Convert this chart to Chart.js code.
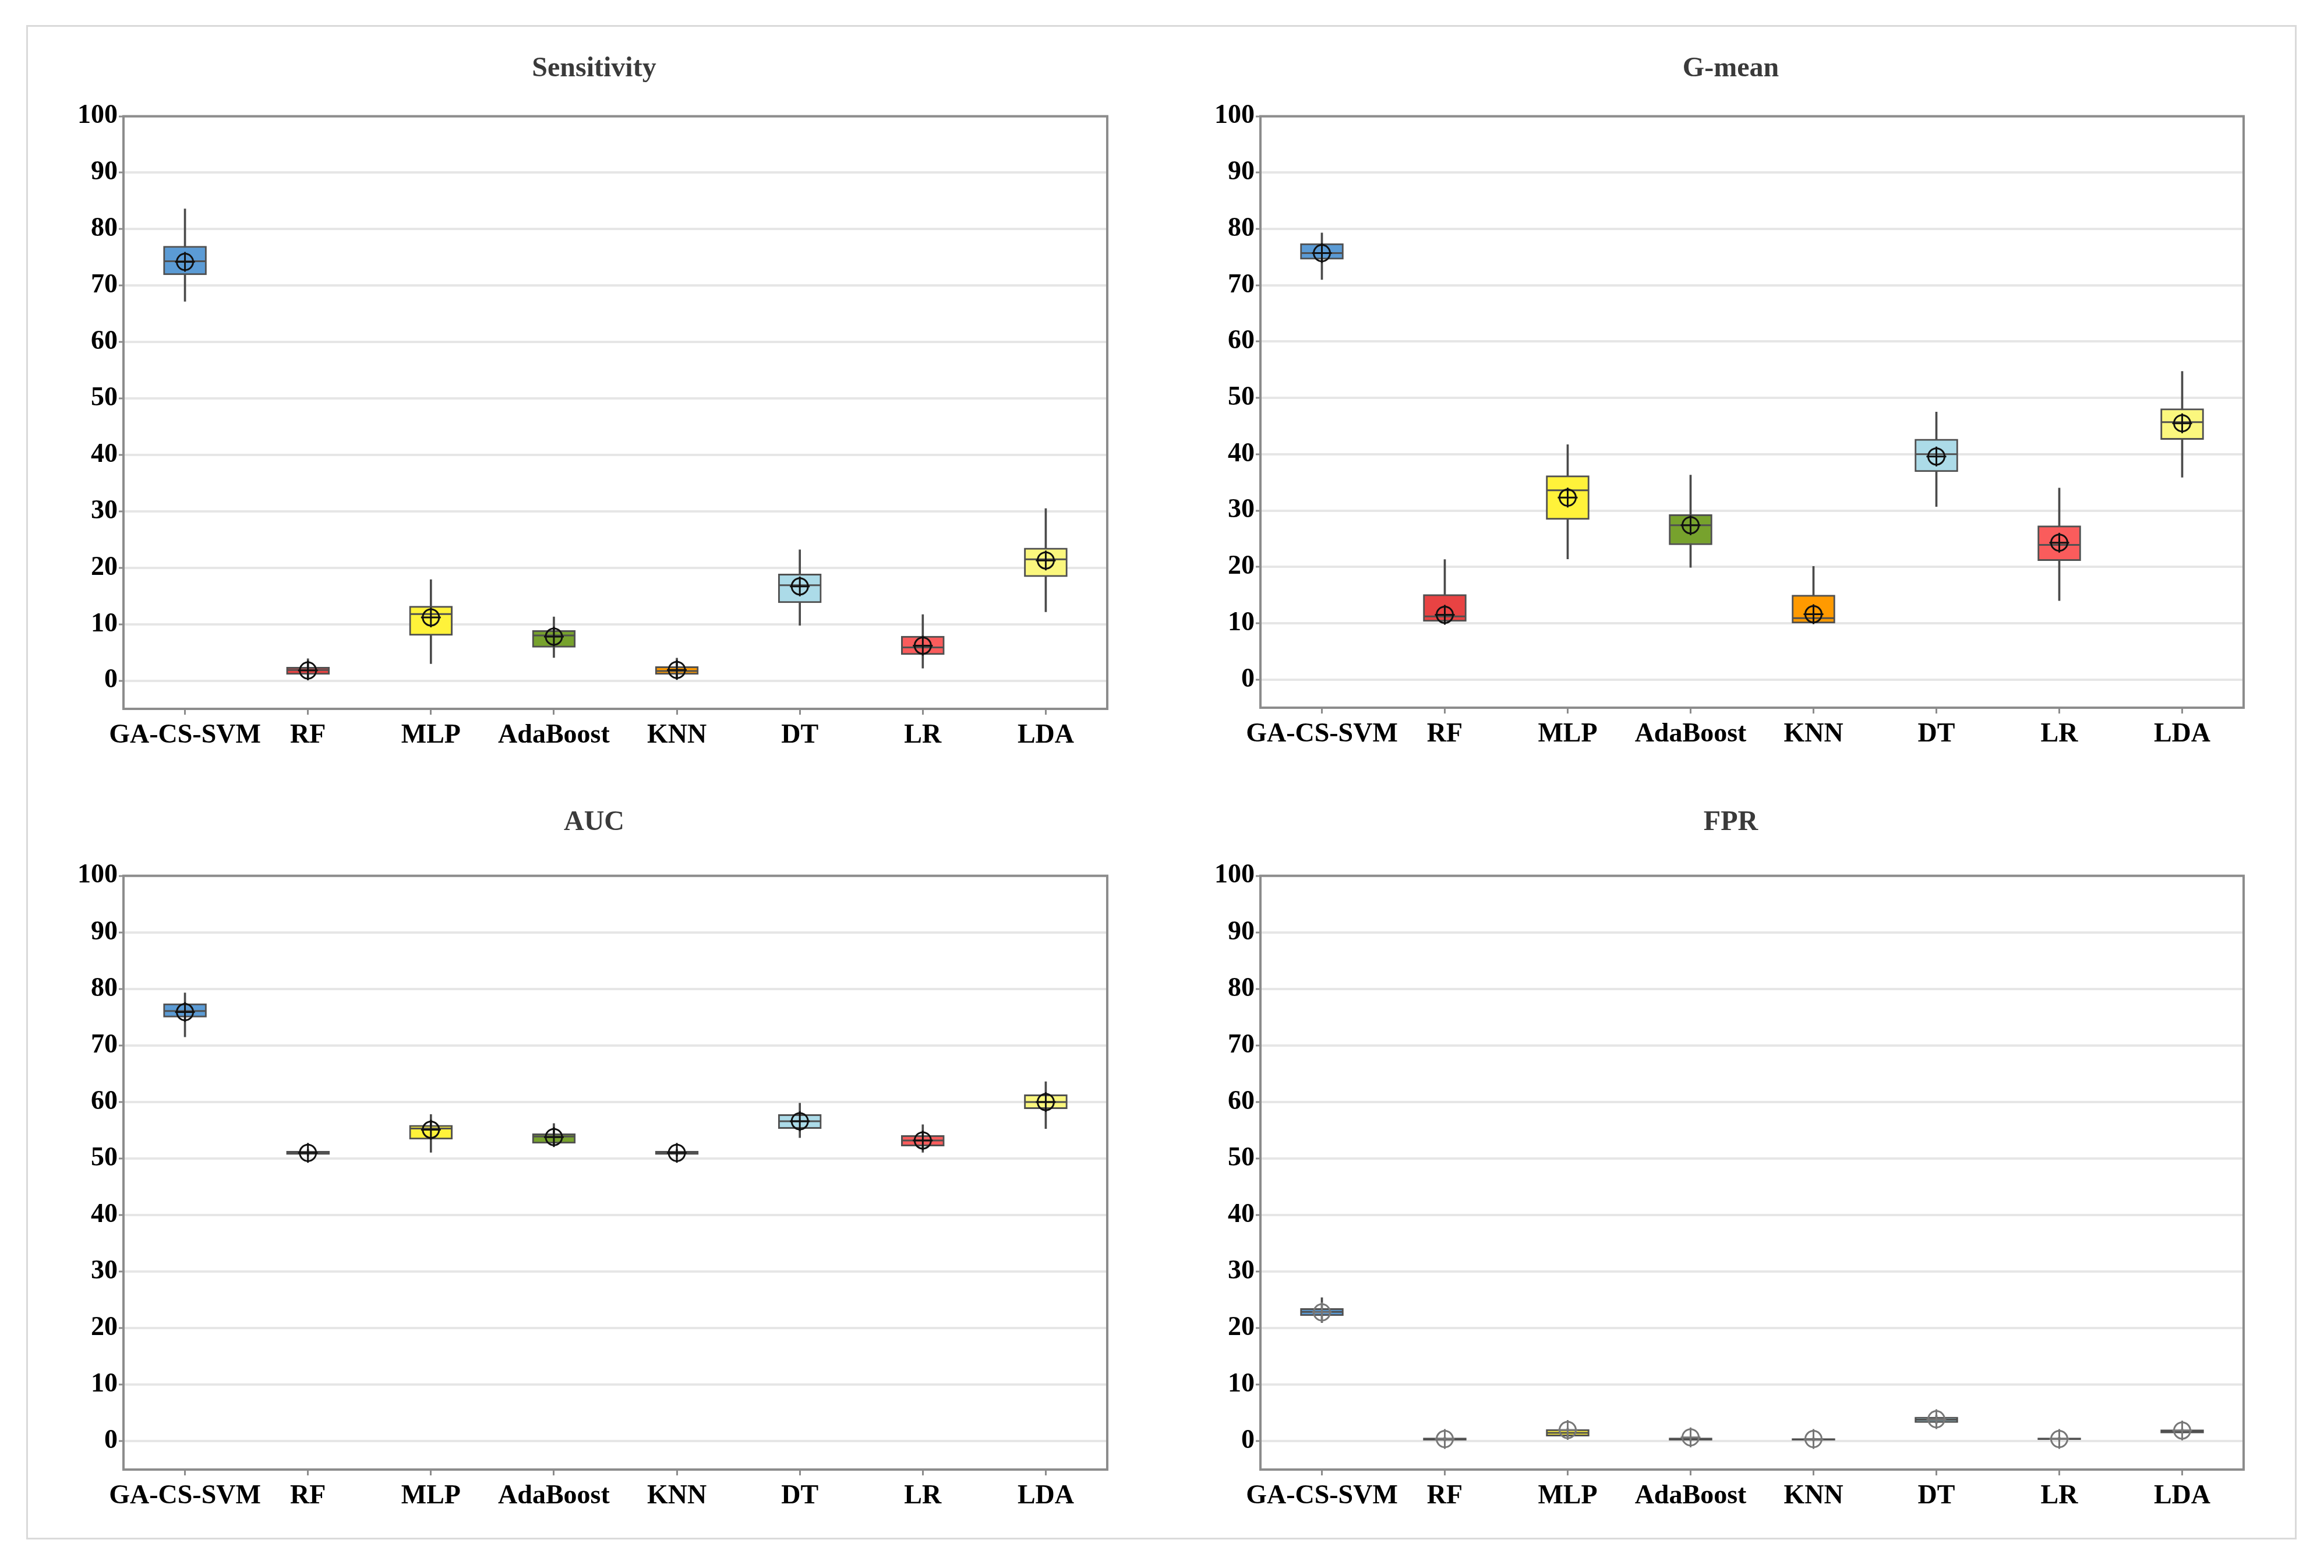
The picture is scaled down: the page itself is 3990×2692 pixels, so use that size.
<!DOCTYPE html>
<html><head><meta charset="utf-8">
<script src="https://cdn.jsdelivr.net/npm/chart.js@4.4.1/dist/chart.umd.min.js"></script>
<style>
html,body{margin:0;padding:0;background:#fff;}
#page{position:relative;width:3990px;height:2692px;background:#fff;overflow:hidden;}
#frame{position:absolute;left:45px;top:43px;width:3898px;height:2600px;box-sizing:border-box;border:3px solid #dadada;}
canvas{position:absolute;}
</style></head><body>
<div id="page"><div id="frame"></div>
<canvas id="c1"></canvas><canvas id="c2"></canvas><canvas id="c3"></canvas><canvas id="c4"></canvas>
</div>
<script>
const categories = ['GA-CS-SVM','RF','MLP','AdaBoost','KNN','DT','LR','LDA'];
const yTicks = [0,10,20,30,40,50,60,70,80,90,100];
const boxColors = ['#5b9bd5','#e84343','#fff23a','#77a22d','#ff9a00','#acdbe8','#fa5c5c','#fbf77e'];

const sensMin  = [67.2, 0.5, 3.0, 4.1, 0.3, 9.8, 2.2, 12.2];
const sensQ1   = [71.9, 1.1, 8.0, 5.9, 1.1, 13.8, 4.6, 18.4];
const sensMed  = [74.3, 1.9, 11.8, 8.0, 1.7, 16.9, 5.9, 21.5];
const sensQ3   = [77.0, 2.4, 13.2, 8.9, 2.5, 18.9, 7.9, 23.5];
const sensMax  = [83.6, 3.9, 17.9, 11.3, 4.0, 23.2, 11.7, 30.5];
const sensMean = [74.2, 1.8, 11.2, 7.8, 1.9, 16.7, 6.2, 21.3];

const gmMin  = [71.0, 10.3, 21.4, 19.9, 10.0, 30.7, 14.0, 35.9];
const gmQ1   = [74.6, 10.3, 28.4, 23.9, 10.0, 36.9, 21.1, 42.6];
const gmMed  = [75.7, 11.2, 33.6, 27.4, 10.9, 40.0, 23.9, 45.7];
const gmQ3   = [77.4, 15.1, 36.2, 29.3, 15.0, 42.7, 27.3, 48.1];
const gmMax  = [79.3, 21.3, 41.7, 36.3, 20.1, 47.5, 34.0, 54.7];
const gmMean = [75.7, 11.5, 32.3, 27.4, 11.6, 39.6, 24.3, 45.5];

const aucMin  = [71.5, 50.4, 51.1, 52.3, 50.4, 53.7, 51.1, 55.3];
const aucQ1   = [75.0, 50.7, 53.4, 52.7, 50.7, 55.3, 52.2, 58.8];
const aucMed  = [76.1, 51.0, 55.3, 53.9, 51.0, 56.6, 53.2, 60.0];
const aucQ3   = [77.4, 51.3, 55.9, 54.4, 51.3, 57.8, 54.1, 61.3];
const aucMax  = [79.3, 51.6, 57.8, 56.2, 51.6, 59.8, 56.0, 63.6];
const aucMean = [75.9, 51.0, 55.1, 53.8, 51.0, 56.6, 53.2, 60.0];

const fprMin  = [21.0, 0.1, 0.8, 0.1, 0.1, 3.1, 0.2, 1.4];
const fprQ1   = [22.2, 0.15, 0.9, 0.15, 0.15, 3.3, 0.25, 1.45];
const fprMed  = [22.9, 0.35, 1.5, 0.4, 0.3, 3.8, 0.4, 1.8];
const fprQ3   = [23.5, 0.6, 2.1, 0.6, 0.5, 4.3, 0.6, 2.05];
const fprMax  = [25.4, 0.7, 2.3, 0.7, 0.6, 4.6, 0.7, 2.2];
const fprMean = [22.8, 0.4, 2.0, 0.7, 0.4, 3.9, 0.4, 1.9];

const FONT = 'Liberation Serif, Times New Roman, serif';
const AXIS = '#8c8c8c';

const framePlugin = {
  id: 'frameBox',
  afterDatasetsDraw(chart) {
    const a = chart.chartArea, ctx = chart.ctx;
    ctx.save();
    ctx.strokeStyle = AXIS; ctx.lineWidth = 4;
    ctx.strokeRect(a.left, a.top, a.right - a.left, a.bottom - a.top);
    ctx.restore();
  }
};

function build(id, pos, title, mn, q1, md, q3, mx, mean, markerColor) {
  const cv = document.getElementById(id);
  cv.width = pos.w; cv.height = pos.h;
  cv.style.left = pos.left + 'px'; cv.style.top = pos.top + 'px';
  cv.style.width = pos.w + 'px'; cv.style.height = pos.h + 'px';
  const tickFont = {family: FONT, size: 46, weight: 'bold'};
  new Chart(cv, {
    type: 'bar',
    data: {
      labels: categories,
      datasets: [
        {label: 'whisker', data: mn.map((v, i) => [v, mx[i]]), backgroundColor: '#4a4a4a',
          barThickness: 3, grouped: false, order: 5},
        {label: 'box', data: q1.map((v, i) => [v, q3[i]]), backgroundColor: boxColors,
          borderColor: '#505050', borderWidth: 3, borderSkipped: false, barThickness: 74, grouped: false, order: 4},
        {type: 'line', label: 'median', data: md, showLine: false, pointStyle: 'line', pointRadius: 35,
          pointHoverRadius: 35, borderColor: '#505050', pointBorderColor: '#505050', pointBorderWidth: 3, borderWidth: 3, order: 3},
        {type: 'line', label: 'mean', data: mean, showLine: false, pointStyle: 'circle', pointRadius: 14,
          pointHoverRadius: 14, backgroundColor: 'rgba(0,0,0,0)', pointBackgroundColor: 'rgba(0,0,0,0)',
          borderColor: markerColor, pointBorderColor: markerColor, pointBorderWidth: 3, order: 2},
        {type: 'line', label: 'meanCross', data: mean, showLine: false, pointStyle: 'cross', pointRadius: 17,
          pointHoverRadius: 17, borderColor: markerColor, pointBorderColor: markerColor, pointBorderWidth: 3, order: 1}
      ]
    },
    options: {
      responsive: false, animation: false, events: [],
      layout: {padding: {left: pos.padL, right: pos.padR, top: 0, bottom: pos.padB}},
      plugins: {
        legend: {display: false}, tooltip: {enabled: false},
        title: {display: true, text: title, color: '#3a3a3a',
          font: {family: FONT, size: 48, weight: 'bold'}, padding: {top: pos.tTop, bottom: pos.tBot}}
      },
      scales: {
        x: {
          offset: true,
          grid: {display: true, drawOnChartArea: false, offset: false, tickLength: 10, tickColor: AXIS, tickWidth: 3},
          border: {display: true, color: AXIS, width: 4},
          ticks: {color: '#000', font: tickFont, maxRotation: 0, minRotation: 0, autoSkip: false, padding: 9},
          afterFit(s) { s.height = 90; s.paddingLeft = 0; s.paddingRight = 0; }
        },
        y: {
          min: -5, max: 100,
          afterBuildTicks(s) { s.ticks = yTicks.map(v => ({value: v})); },
          grid: {color: '#e6e6e6', lineWidth: 4, tickColor: AXIS, tickLength: 8, tickWidth: 3},
          border: {display: true, color: AXIS, width: 4},
          ticks: {color: '#000', font: tickFont, padding: 2},
          afterFit(s) { s.width = 91; }
        }
      }
    },
    plugins: [framePlugin]
  });
}

const top1 = {left: 25, top: 62, w: 1914, h: 1258, padL: 96, padR: 20, padB: 13, tTop: 28, tBot: 52};
const top2 = {left: 1977, top: 62, w: 1913, h: 1258, padL: 96, padR: 20, padB: 15, tTop: 28, tBot: 52};
const bot1 = {left: 25, top: 1358, w: 1914, h: 1270, padL: 96, padR: 20, padB: 15, tTop: 26, tBot: 62};
const bot2 = {left: 1977, top: 1358, w: 1913, h: 1270, padL: 96, padR: 20, padB: 15, tTop: 26, tBot: 62};

build('c1', top1, 'Sensitivity', sensMin, sensQ1, sensMed, sensQ3, sensMax, sensMean, '#111');
build('c2', top2, 'G-mean', gmMin, gmQ1, gmMed, gmQ3, gmMax, gmMean, '#111');
build('c3', bot1, 'AUC', aucMin, aucQ1, aucMed, aucQ3, aucMax, aucMean, '#111');
build('c4', bot2, 'FPR', fprMin, fprQ1, fprMed, fprQ3, fprMax, fprMean, '#777');
</script>
</body></html>
